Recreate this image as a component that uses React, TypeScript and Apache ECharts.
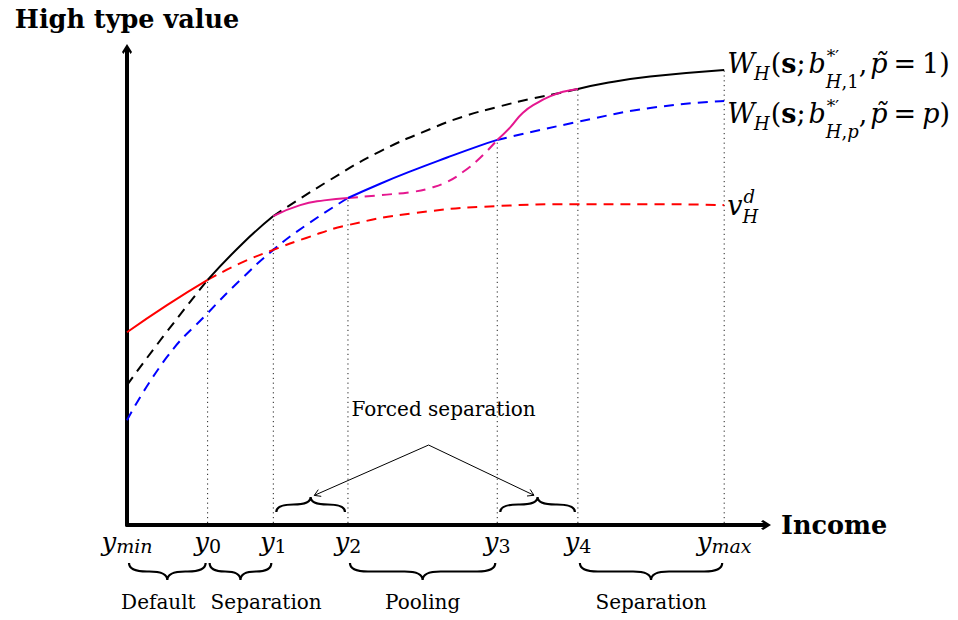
import React, { useEffect, useRef } from 'react';
import * as echarts from 'echarts';

// ---------------- data ----------------
const thresholds = [0, 1.35, 2.45, 3.7, 6.2, 7.55, 10];
const thresholdSubscripts = ['min', '0', '1', '2', '3', '4', 'max'];

const blackCurve = [
  [0, 2.94], [0.6, 3.95], [1.35, 5.15], [1.94, 5.92], [2.45, 6.49], [3.4, 7.25],
  [4.24, 7.85], [5.08, 8.32], [5.63, 8.58], [6.2, 8.78], [6.75, 8.95], [7.3, 9.09],
  [7.55, 9.16], [8.0, 9.28], [8.76, 9.42], [10, 9.56],
];
const blueCurve = [
  [0, 2.2], [0.67, 3.53], [1.35, 4.45], [1.9, 5.15], [2.45, 5.78], [3.0, 6.3],
  [3.7, 6.87], [4.24, 7.17], [4.79, 7.45], [5.36, 7.72], [5.91, 7.97], [6.2, 8.09],
  [7.55, 8.47], [8.76, 8.76], [10, 8.91],
];
const redCurve = [
  [0, 4.05], [0.67, 4.62], [1.35, 5.15], [1.9, 5.5], [2.45, 5.78], [3.0, 6.03],
  [3.7, 6.3], [4.8, 6.55], [6.2, 6.7], [7.5, 6.74], [8.8, 6.74], [10, 6.72],
];
const pinkCurve = [
  [2.45, 6.49], [2.9, 6.72], [3.3, 6.82], [3.7, 6.87], [4.24, 6.93], [4.79, 7.0],
  [5.08, 7.08], [5.36, 7.21], [5.63, 7.42], [5.91, 7.71], [6.2, 8.09], [6.42, 8.36],
  [6.63, 8.66], [6.87, 8.87], [7.09, 9.01], [7.3, 9.1], [7.55, 9.16],
];

const regimeIntervals = [[0, 1.35], [1.35, 2.45], [3.7, 6.2], [7.55, 10]];
const regimeLabels = ['Default', 'Separation', 'Pooling', 'Separation'];
const forcedIntervals = [[2.45, 3.7], [6.2, 7.55]];
const forcedLabel = 'Forced separation';
const forcedOrigin = [5.05, 1.68];

const xAxisTitle = 'Income';
const yAxisTitle = 'High type value';

// ---------------- styling ----------------
const SERIF = '"DejaVu Serif", serif';
const BLACK = '#000000';
const BLUE = '#0000ff';
const RED = '#ff0000';
const PINK = '#e5178f';
const DASH = [10, 7];

// segments: [fromThresholdIndex, toThresholdIndex, solid?]
const curveStyles = [
  { curve: blackCurve, color: BLACK, parts: [[0, 1, false], [1, 2, true], [2, 5, false], [5, 6, true]] },
  { curve: blueCurve, color: BLUE, parts: [[0, 3, false], [3, 4, true], [4, 6, false]] },
  { curve: redCurve, color: RED, parts: [[0, 1, true], [1, 6, false]] },
  { curve: pinkCurve, color: PINK, parts: [[2, 3, true], [3, 4, false], [4, 5, true]] },
];
const regimeLabelAlign = ['right', 'left', 'center', 'center'];

const ARROW = 'path://M50,0 L100,80 L86,100 L50,45 L14,100 L0,80 Z';

function segment(curve: number[][], a: number, b: number) {
  return curve.filter((p) => p[0] >= a - 1e-9 && p[0] <= b + 1e-9);
}

function bracePath(x1: number, x2: number, yb: number, a: number) {
  const h = a / 2;
  const xm = (x1 + x2) / 2;
  const r = Math.min(18, (x2 - x1) / 4);
  return (
    `M${x1},${yb} Q${x1},${yb + h} ${x1 + r},${yb + h} L${xm - r},${yb + h} ` +
    `Q${xm},${yb + h} ${xm},${yb + a} Q${xm},${yb + h} ${xm + r},${yb + h} ` +
    `L${x2 - r},${yb + h} Q${x2},${yb + h} ${x2},${yb}`
  );
}

type Piece = { t: string; s: number; it?: boolean; bd?: boolean; dy?: number; dx?: number; hold?: boolean };

let measureCtx: CanvasRenderingContext2D | null = null;
function fontOf(p: Piece) {
  return `${p.it ? 'italic ' : ''}${p.bd ? 'bold ' : ''}${p.s}px ${SERIF}`;
}
function measure(p: Piece) {
  if (!measureCtx) measureCtx = document.createElement('canvas').getContext('2d');
  measureCtx!.font = fontOf(p);
  return measureCtx!.measureText(p.t).width;
}
function layoutMath(pieces: Piece[], x0: number, baseline: number) {
  let x = x0;
  const out: any[] = [];
  for (const p of pieces) {
    const px = x + (p.dx || 0);
    const w = measure(p);
    out.push({
      type: 'text',
      x: px,
      y: baseline + (p.dy || 0) - 0.35 * p.s,
      silent: true,
      style: {
        text: p.t,
        fontFamily: SERIF,
        fontSize: p.s,
        fontStyle: p.it ? 'italic' : 'normal',
        fontWeight: p.bd ? 'bold' : 'normal',
        fill: BLACK,
        align: 'left',
        verticalAlign: 'middle',
      },
    });
    if (!p.hold) x = px + w;
  }
  return out;
}

function wLabel(sub: string, val: string, valItalic: boolean): Piece[] {
  return [
    { t: 'W', s: 27, it: true },
    { t: 'H', s: 18, it: true, dy: 7, dx: -1 },
    { t: '(', s: 27, dx: 1 },
    { t: 's', s: 27, bd: true },
    { t: ';', s: 27 },
    { t: 'b', s: 27, it: true, dx: 3 },
    { t: '*′', s: 17, dy: -11, hold: true, dx: 1 },
    { t: 'H', s: 18, it: true, dy: 15 },
    { t: ',', s: 18, dy: 15 },
    { t: sub, s: 18, it: sub !== '1', dy: 15 },
    { t: ',', s: 27 },
    { t: 'p\u0303', s: 27, it: true, dx: 3 },
    { t: '=', s: 27, dx: 6 },
    { t: val, s: 27, it: valItalic, dx: 6 },
    { t: ')', s: 27 },
  ];
}
const vLabel: Piece[] = [
  { t: 'v', s: 27, it: true },
  { t: 'd', s: 18, it: true, dy: -12, hold: true, dx: 1 },
  { t: 'H', s: 18, it: true, dy: 8 },
];

export default function App() {
  const ref = useRef<HTMLDivElement>(null);

  useEffect(() => {
    if (!ref.current) return;
    const chart = echarts.init(ref.current, null, { renderer: 'svg' });

    const series: any[] = [];

    // dotted verticals up to the active (solid) curve
    const tops = thresholds.map((x) => {
      let top = 0;
      for (const cs of curveStyles) {
        for (const [a, b, solid] of cs.parts as any[]) {
          if (!solid) continue;
          for (const p of segment(cs.curve, thresholds[a], thresholds[b])) {
            if (Math.abs(p[0] - x) < 1e-9) top = Math.max(top, p[1]);
          }
        }
      }
      return [x, top];
    });
    series.push({
      type: 'custom',
      coordinateSystem: 'cartesian2d',
      silent: true,
      clip: false,
      z: 1,
      data: tops.slice(1),
      encode: { x: 0, y: 1 },
      renderItem: (params: any, api: any) => {
        const p0 = api.coord([api.value(0), 0]);
        const p1 = api.coord([api.value(0), api.value(1)]);
        return {
          type: 'line',
          shape: { x1: p0[0], y1: p0[1] - 2, x2: p1[0], y2: p1[1] },
          style: { stroke: '#222', lineWidth: 1, lineDash: [1.2, 3.6], fill: null },
        };
      },
    });

    // curves
    for (const cs of curveStyles) {
      for (const [a, b, solid] of cs.parts as any[]) {
        series.push({
          type: 'line',
          data: segment(cs.curve, thresholds[a], thresholds[b]),
          smooth: 0.5,
          showSymbol: false,
          symbol: 'none',
          silent: true,
          z: solid ? 4 : 3,
          lineStyle: { color: cs.color, width: 2, type: solid ? 'solid' : DASH },
        });
      }
    }

    // lower braces with regime labels
    series.push({
      type: 'custom',
      coordinateSystem: 'cartesian2d',
      silent: true,
      clip: false,
      z: 6,
      data: regimeIntervals.map((iv) => [iv[0], iv[1], 0]),
      encode: { x: [0, 1], y: 2 },
      renderItem: (params: any, api: any) => {
        const i = params.dataIndex;
        const p1 = api.coord([api.value(0), 0]);
        const p2 = api.coord([api.value(1), 0]);
        const x1 = p1[0] + 2;
        const x2 = p2[0] - 2;
        const yb = p1[1] + 38;
        const align = regimeLabelAlign[i];
        const tx = align === 'right' ? x2 - 10 : align === 'left' ? x1 + 1 : (x1 + x2) / 2;
        return {
          type: 'group',
          children: [
            {
              type: 'path',
              shape: { pathData: bracePath(x1, x2, yb, 17) },
              style: { fill: null, stroke: BLACK, lineWidth: 2.2 },
            },
            {
              type: 'text',
              x: tx,
              y: yb + 39,
              style: {
                text: regimeLabels[i],
                fontFamily: SERIF,
                fontSize: 20,
                fill: BLACK,
                align,
                verticalAlign: 'middle',
              },
            },
          ],
        };
      },
    });

    // upper braces (forced separation)
    series.push({
      type: 'custom',
      coordinateSystem: 'cartesian2d',
      silent: true,
      clip: false,
      z: 6,
      data: forcedIntervals.map((iv) => [iv[0], iv[1], 0]),
      encode: { x: [0, 1], y: 2 },
      renderItem: (params: any, api: any) => {
        const p1 = api.coord([api.value(0), 0]);
        const p2 = api.coord([api.value(1), 0]);
        return {
          type: 'path',
          shape: { pathData: bracePath(p1[0] + 3, p2[0] - 3, p1[1] - 13, -15) },
          style: { fill: null, stroke: BLACK, lineWidth: 2.2 },
        };
      },
    });

    // arrows from the "Forced separation" note to the braces
    series.push({
      type: 'custom',
      coordinateSystem: 'cartesian2d',
      silent: true,
      clip: false,
      z: 7,
      data: forcedIntervals.map((iv) => [forcedOrigin[0], forcedOrigin[1], (iv[0] + iv[1]) / 2]),
      encode: { x: [0, 2], y: 1 },
      renderItem: (params: any, api: any) => {
        const o = api.coord([api.value(0), api.value(1)]);
        const base = api.coord([api.value(2), 0]);
        const tip = [base[0], base[1] - 28];
        const dx = o[0] - tip[0];
        const dy = o[1] - tip[1];
        const len = Math.hypot(dx, dy);
        const ux = dx / len;
        const uy = dy / len;
        const ex = tip[0] + ux * 4;
        const ey = tip[1] + uy * 4;
        const hl = 7;
        const ang = 0.55;
        const rot = (a: number) => [ux * Math.cos(a) - uy * Math.sin(a), ux * Math.sin(a) + uy * Math.cos(a)];
        const r1 = rot(ang);
        const r2 = rot(-ang);
        const children: any[] = [
          {
            type: 'line',
            shape: { x1: o[0], y1: o[1], x2: ex, y2: ey },
            style: { stroke: BLACK, lineWidth: 1 },
          },
          {
            type: 'polyline',
            shape: {
              points: [
                [ex + r1[0] * hl, ey + r1[1] * hl],
                [ex, ey],
                [ex + r2[0] * hl, ey + r2[1] * hl],
              ],
            },
            style: { stroke: BLACK, lineWidth: 1, fill: null },
          },
        ];
        if (params.dataIndex === 0) {
          children.push({
            type: 'text',
            x: o[0] + 15,
            y: o[1] - 36,
            style: {
              text: forcedLabel,
              fontFamily: SERIF,
              fontSize: 20,
              fill: BLACK,
              align: 'center',
              verticalAlign: 'middle',
            },
          });
        }
        return { type: 'group', children };
      },
    });

    const option: any = {
      animation: false,
      backgroundColor: '#ffffff',
      grid: { left: 127, right: 192, top: 49, bottom: 95, containLabel: false, outerBoundsMode: 'none' },
      xAxis: {
        type: 'value',
        min: 0,
        max: 10.7,
        name: xAxisTitle,
        nameLocation: 'end',
        nameGap: 15,
        nameTextStyle: {
          fontFamily: SERIF,
          fontWeight: 'bold',
          fontSize: 25.5,
          color: BLACK,
          align: 'left',
          verticalAlign: 'middle',
          padding: [3, 0, 0, 0],
        },
        axisLine: {
          show: true,
          onZero: false,
          symbol: ['none', ARROW],
          symbolSize: [18, 10],
          lineStyle: { color: BLACK, width: 4 },
        },
        axisTick: { show: false },
        splitLine: { show: false },
        axisLabel: {
          customValues: thresholds,
          margin: 2,
          color: BLACK,
          formatter: (v: number) => {
            const i = thresholds.findIndex((t) => Math.abs(t - v) < 1e-6);
            if (i < 0) return '';
            const s = thresholdSubscripts[i];
            const style = /^[0-9]+$/.test(s) ? 'sd' : 'si';
            return `{y|y}{${style}|${s}}`;
          },
          rich: {
            y: { fontFamily: SERIF, fontStyle: 'italic', fontSize: 26, lineHeight: 28, verticalAlign: 'bottom', color: BLACK },
            si: { fontFamily: SERIF, fontStyle: 'italic', fontSize: 19, lineHeight: 19, verticalAlign: 'bottom', color: BLACK },
            sd: { fontFamily: SERIF, fontSize: 19, lineHeight: 19, verticalAlign: 'bottom', color: BLACK },
          },
        },
      },
      yAxis: {
        type: 'value',
        min: 0,
        max: 10,
        name: yAxisTitle,
        nameLocation: 'end',
        nameGap: 30,
        nameTextStyle: {
          fontFamily: SERIF,
          fontWeight: 'bold',
          fontSize: 25.5,
          color: BLACK,
          align: 'center',
          verticalAlign: 'middle',
        },
        axisLine: {
          show: true,
          onZero: false,
          symbol: ['none', ARROW],
          symbolSize: [18, 10],
          lineStyle: { color: BLACK, width: 4 },
        },
        axisTick: { show: false },
        splitLine: { show: false },
        axisLabel: { show: false },
      },
      series,
    };
    chart.setOption(option);

    const endBlack = chart.convertToPixel({ gridIndex: 0 }, blackCurve[blackCurve.length - 1]) as number[];
    const endBlue = chart.convertToPixel({ gridIndex: 0 }, blueCurve[blueCurve.length - 1]) as number[];
    const endRed = chart.convertToPixel({ gridIndex: 0 }, redCurve[redCurve.length - 1]) as number[];

    const graphic = [
      ...layoutMath(wLabel('1', '1', false), endBlack[0] + 3, endBlack[1] + 3),
      ...layoutMath(wLabel('p', 'p', true), endBlue[0] + 3, endBlue[1] + 22),
      ...layoutMath(vLabel, endRed[0] + 3, endRed[1] + 10),
    ];
    chart.setOption({ graphic });

    return () => chart.dispose();
  }, []);

  return (
    <div
      ref={ref}
      style={{ position: 'fixed', left: 0, top: 0, width: 958, height: 620, background: '#fff' }}
    />
  );
}
